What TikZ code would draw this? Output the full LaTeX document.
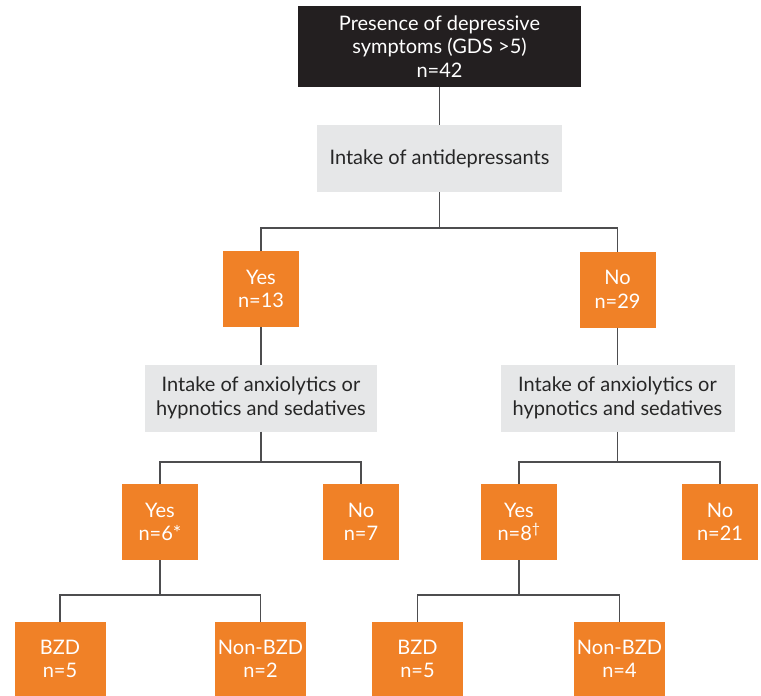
\documentclass[tikz,border=0pt]{standalone}
\usepackage{fontspec}
\setmainfont{Lato}
\definecolor{orng}{HTML}{F08127}
\definecolor{lgray}{HTML}{E6E7E8}
\definecolor{dkbox}{HTML}{231F20}
\definecolor{linec}{HTML}{4D4D4F}
\begin{document}
\begin{tikzpicture}[x=1pt,y=-1pt,
  every node/.style={inner sep=0pt,outer sep=0pt,align=center,font=\fontsize{20}{23.5}\selectfont},
  topbox/.style={fill=dkbox,text=white,minimum width=283pt,minimum height=81pt},
  graybox/.style={fill=lgray,text=black!85,minimum height=67pt},
  obox/.style={fill=orng,text=white,minimum width=76pt,minimum height=76pt},
  bbox/.style={fill=orng,text=white,minimum width=91pt,minimum height=74pt},
  conn/.style={draw=linec,line width=1.3pt}]
\useasboundingbox (0,0) rectangle (761,696);
\node[topbox] (top) at (439.5,46.5) {Presence of depressive\\symptoms (GDS >5)\\n=42};
\node[graybox,minimum width=245pt] (g1) at (439.5,158.5) {Intake of antidepressants};
\node[obox] (yes1) at (261,289) {Yes\\n=13};
\node[obox] (no1) at (617.5,289.5) {No\\n=29};
\node[graybox,minimum width=232pt] (g2l) at (261,398) {Intake of anxiolytics or\\hypnotics and sedatives};
\node[graybox,minimum width=234pt] (g2r) at (617.5,398) {Intake of anxiolytics or\\hypnotics and sedatives};
\node[obox] (yesl) at (160,522) {Yes\\n=6*};
\node[obox] (nol) at (361,522) {No\\n=7};
\node[obox] (yesr) at (519,522) {Yes\\n=8\textsuperscript{†}};
\node[obox] (nor) at (720,522) {No\\n=21};
\node[bbox] (bzdl) at (60,659) {BZD\\n=5};
\node[bbox] (nbzdl) at (260.5,659) {Non-BZD\\n=2};
\node[bbox] (bzdr) at (417.5,659) {BZD\\n=5};
\node[bbox] (nbzdr) at (619.5,659) {Non-BZD\\n=4};
\coordinate (j1) at (439.5,228);
\coordinate (j2) at (261,462);
\coordinate (j3) at (617.5,462);
\coordinate (j4) at (160,595);
\coordinate (j5) at (519,595);
\draw[conn] (top.south) -- (g1.north);
\draw[conn] (g1.south) -- (j1);
\draw[conn] (yes1.north) |- (j1) -| (no1.north);
\draw[conn] (yes1.south) -- (g2l.north);
\draw[conn] (no1.south) -- (g2r.north);
\draw[conn] (g2l.south) -- (j2);
\draw[conn] (yesl.north) |- (j2) -| (nol.north);
\draw[conn] (g2r.south) -- (j3);
\draw[conn] (yesr.north) |- (j3) -| (nor.north);
\draw[conn] (yesl.south) -- (j4);
\draw[conn] (bzdl.north) |- (j4) -| (nbzdl.north);
\draw[conn] (yesr.south) -- (j5);
\draw[conn] (bzdr.north) |- (j5) -| (nbzdr.north);
\end{tikzpicture}
\end{document}
